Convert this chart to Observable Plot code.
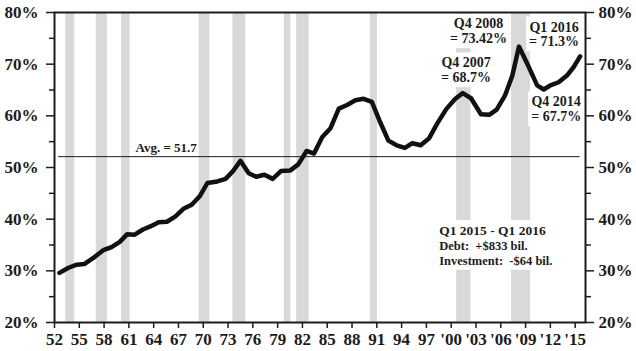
<!DOCTYPE html>
<html><head><meta charset="utf-8">
<script src="https://cdn.jsdelivr.net/npm/d3@7"></script>
<script src="https://cdn.jsdelivr.net/npm/@observablehq/plot@0.6"></script>
<style>html,body{margin:0;padding:0;background:#fff;}</style>
</head><body><div id="chart"></div>
<script>
// Series (decimal year, percent)
const years = [1952.6,1953.7,1954.7,1955.6,1956.7,1957.9,1958.9,1959.9,1960.8,1961.7,1962.7,1963.6,1964.6,1965.6,1966.6,1967.6,1968.6,1969.6,1970.5,1971.7,1972.7,1973.6,1974.5,1975.5,1976.4,1977.4,1978.4,1979.4,1980.5,1981.5,1982.5,1983.4,1984.4,1985.4,1986.4,1987.4,1988.4,1989.4,1990.4,1991.4,1992.4,1993.4,1994.4,1995.3,1996.3,1997.3,1998.3,1999.4,2000.5,2001.4,2002.4,2003.6,2004.6,2005.5,2006.5,2007.4,2008.2,2009.2,2010.4,2011.2,2012.0,2013.0,2014.0,2014.8,2015.6];
const values = [29.6,30.6,31.2,31.3,32.5,34.0,34.6,35.6,37.1,37.0,38.0,38.6,39.4,39.5,40.5,42.0,42.8,44.5,47.0,47.3,47.8,49.3,51.3,48.9,48.2,48.6,47.8,49.3,49.4,50.6,53.2,52.7,55.9,57.6,61.4,62.1,63.0,63.3,62.7,58.8,55.2,54.3,53.8,54.7,54.3,55.6,58.5,61.3,63.3,64.4,63.4,60.3,60.2,61.2,63.9,67.8,73.4,70.1,65.9,65.1,65.9,66.5,67.8,69.4,71.5];

// Recession shading
const recessionStart = [1953.35,1957.05,1960.1,1969.5,1973.6,1979.8,1981.3,1990.2,2000.65,2007.3];
const recessionEnd   = [1954.45,1958.4,1961.15,1970.8,1975.15,1980.6,1982.8,1991.07,2002.4,2009.6];

// Average
const avgLabel = "Avg. = 51.7";
const avgLevel = 52.1;

// Ticks
const yTicks = [20,30,40,50,60,70,80];
const yMinorTicks = [25,35,45,55,65,75];
const xTicks = [1952,1955,1958,1961,1964,1967,1970,1973,1976,1979,1982,1985,1988,1991,1994,1997,2000,2003,2006,2009,2012,2015];
const xTickLabels = ["52","55","58","61","64","67","70","73","76","79","82","85","88","91","94","97","'00","'03","'06","'09","'12","'15"];

// Callouts
const calloutText = ["Q4 2008\n= 73.42%","Q4 2007\n= 68.7%","Q1 2016\n= 71.3%","Q4 2014\n= 67.7%"];
const calloutX = [2003.3,2001.8,2012.45,2012.7];
const calloutY = [76.4,68.85,75.8,61.3];

const noteLines = ["Q1 2015 - Q1 2016","Debt:\u00a0\u00a0+$833 bil.","Investment:\u00a0\u00a0-$64 bil."];
const noteX = 1998.55;
const noteY = [37.75,34.85,31.95];

const series = years.map((x,i)=>({x, v: values[i]}));
const recessions = recessionStart.map((s,i)=>({start: s, end: recessionEnd[i]}));
const callouts = calloutText.map((t,i)=>({t, x: calloutX[i], y: calloutY[i]}));
const notes = noteLines.map((t,i)=>({t, x: noteX, y: noteY[i], i}));

const ink = "#1c1c1c";
const plot = Plot.plot({
  width: 636, height: 351,
  marginLeft: 54, marginRight: 51, marginTop: 12, marginBottom: 29,
  style: {fontFamily: "'Liberation Serif','Times New Roman',serif", fontWeight: "bold", fontSize: "17px", color: ink, background: "#fff"},
  x: {domain: [1952, 2016.25], label: null},
  y: {domain: [20, 80], label: null},
  marks: [
    Plot.rect(recessions, {x1: "start", x2: "end", fill: "#d9d9d9"}),
    ...callouts.map(c => Plot.text([c], {x: "x", y: "y", text: "t", fontSize: 14, lineHeight: 1.05, fill: ink, ariaDescription: "boxed"})),
    Plot.text(notes, {x: "x", y: "y", text: "t", textAnchor: "start", fontSize: d => d.i === 0 ? 13.5 : 12.5, fill: ink, ariaDescription: "boxed"}),
    Plot.ruleY([avgLevel], {x1: d3.min(years) - 0.1, x2: d3.max(years), stroke: ink, strokeWidth: 1}),
    Plot.line(series, {x: "x", y: "v", stroke: "#111", strokeWidth: 4.5, strokeLinejoin: "round", strokeLinecap: "round"}),
    Plot.text([avgLabel], {x: 1961.8, y: 53.75, text: d => d, textAnchor: "start", fontSize: 13, fill: ink}),
    Plot.frame({stroke: ink, strokeWidth: 2}),
    Plot.axisY(yTicks, {anchor: "left", tickSize: 8, tickPadding: 8, tickFormat: d => d + "%", strokeWidth: 1.5, label: null}),
    Plot.axisY(yMinorTicks, {anchor: "left", tickSize: 5, tickFormat: () => "", strokeWidth: 1.5, label: null}),
    Plot.axisY(yTicks, {anchor: "right", tickSize: 8, tickPadding: 5, tickFormat: d => d + "%", strokeWidth: 1.5, label: null}),
    Plot.axisY(yMinorTicks, {anchor: "right", tickSize: 5, tickFormat: () => "", strokeWidth: 1.5, label: null}),
    Plot.axisX(xTicks, {anchor: "bottom", tickSize: 6, tickPadding: 4, tickFormat: d => xTickLabels[xTicks.indexOf(d)], strokeWidth: 1.5, label: null})
  ]
});
document.getElementById("chart").append(plot);
plot.querySelectorAll('g[aria-description="boxed"]').forEach(g => {
  const b = g.getBBox();
  const r = document.createElementNS("http://www.w3.org/2000/svg", "rect");
  r.setAttribute("x", b.x - 3);
  r.setAttribute("y", b.y - 3);
  r.setAttribute("width", b.width + 6);
  r.setAttribute("height", b.height + 5);
  r.setAttribute("fill", "#fff");
  r.setAttribute("stroke", "none");
  g.insertBefore(r, g.firstChild);
});
</script>
</body></html>
